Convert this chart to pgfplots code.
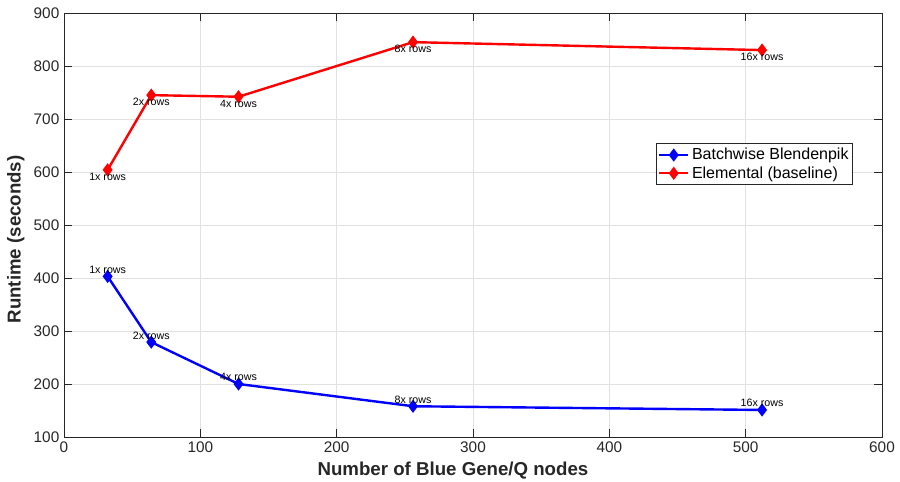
\documentclass[border=0pt]{standalone}
\usepackage{fontspec}
\setmainfont{Liberation Sans}
\usepackage{pgfplots}
\pgfplotsset{compat=1.18}
\definecolor{gridgray}{RGB}{225,225,225}
\definecolor{axgray}{RGB}{38,38,38}
\definecolor{mblue}{RGB}{0,0,255}
\definecolor{mred}{RGB}{255,0,0}

\begin{document}
\begin{tikzpicture}
\begin{axis}[
  name=ax,
  scale only axis, width=613.5pt, height=318pt,
  xmin=0, xmax=600, ymin=100, ymax=900,
  xtick distance=100, ytick distance=100,
  grid=major, grid style={gridgray, line width=0.6pt},
  axis line style={axgray, line width=0.6pt},
  tick style={axgray, line width=0.6pt},
  major tick length=6pt, tick align=inside,
  /pgf/number format/assume math mode=true,
  tick label style={font=\fontsize{11.5}{13}\selectfont, text=axgray},
  label style={font=\fontsize{14}{16}\selectfont\bfseries, text=axgray},
  xlabel={Number of Blue Gene/Q nodes},
  ylabel={Runtime (seconds)},
  xlabel style={at={(ticklabel cs:0.4755)}},
  ylabel style={at={(ticklabel cs:0.466)}},
  legend style={at={(0.9645,0.693)}, anchor=north east,
    font=\fontsize{12}{14}\selectfont, draw=axgray, line width=0.6pt,
    inner xsep=1pt, inner ysep=1.5pt, row sep=-0.5pt},
  legend image code/.code={\draw[mark repeat=2, mark phase=2, #1]
    plot coordinates {(0cm,0cm) (0.38cm,0cm) (0.76cm,0cm)};},
  legend cell align=left,
  every node near coord/.style={font=\fontsize{8}{9}\selectfont, text=black, anchor=center},
]
\addplot[mblue, line width=1.8pt, mark=diamond*, mark size=3.5pt,
  nodes near coords, point meta=explicit symbolic,
  every node near coord/.append style={yshift=5pt}]
  coordinates {
    (32,403) [1x rows] (64,279) [2x rows] (128,200) [4x rows]
    (256,158) [8x rows] (512,151) [16x rows]
  };
\addlegendentry{Batchwise Blendenpik\hspace{14pt}}
\addplot[mred, line width=1.8pt, mark=diamond*, mark size=3.5pt,
  nodes near coords, point meta=explicit symbolic,
  every node near coord/.append style={yshift=-5pt}]
  coordinates {
    (32,604) [1x rows] (64,745) [2x rows] (128,742) [4x rows]
    (256,845) [8x rows] (512,830) [16x rows]
  };
\addlegendentry{Elemental (baseline)}
\end{axis}
\pgfresetboundingbox
\path ([shift={(-48pt,-33.75pt)}]ax.south west) rectangle ([shift={(13.5pt,9.75pt)}]ax.north east);
\end{tikzpicture}
\end{document}
